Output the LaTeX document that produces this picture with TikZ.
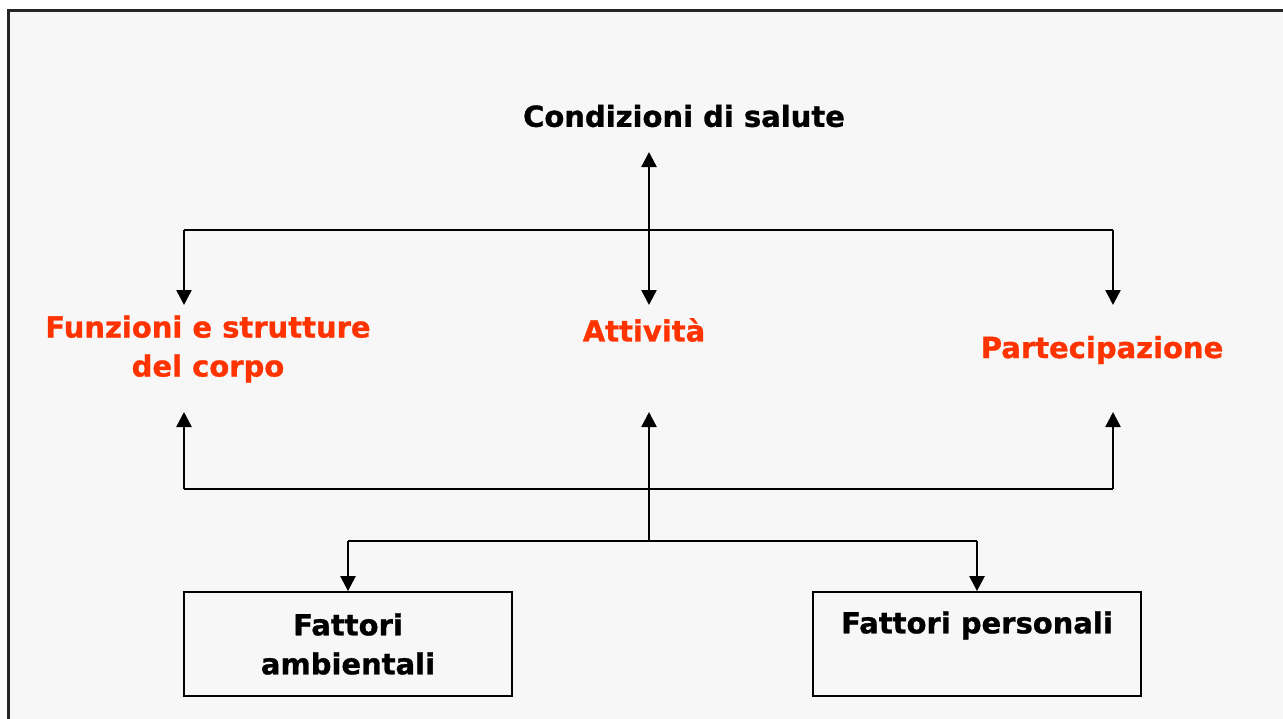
\documentclass[tikz,border=0pt]{standalone}
\usepackage{fontspec}
\setmainfont[BoldFeatures={FakeBold=1}]{DejaVu Sans}
\usetikzlibrary{arrows.meta}
\definecolor{icfred}{RGB}{255,51,0}
\definecolor{icfbg}{RGB}{247,247,247}

\tikzset{
    lbl/.style={font=\fontsize{29}{39}\selectfont\bfseries, inner sep=0pt, align=center},
    comp/.style={lbl, text=icfred},
    fattbox/.style={draw, line width=1.8pt, minimum width=328pt, minimum height=104pt},
    arr/.style={line width=2.4pt, -{Triangle[length=15pt, width=15pt]}},
    bus/.style={line width=2.4pt}
}

\begin{document}
\begin{tikzpicture}[x=1pt, y=-1pt]

        \useasboundingbox (0, 0) rectangle (1283, 718);
        \fill[white] (0, 0) rectangle (1283, 718);
        \draw[line width=3pt, fill=icfbg, draw=black!85] (8, 10) rectangle (1300, 740);

        % titolo e componenti
        \node[lbl] (salute) at (684, 116) {Condizioni di salute};
        \node[comp] (funz) at (208, 349) {Funzioni e strutture\\del corpo};
        \node[comp] (att) at (644, 330) {Attività};
        \node[comp] (part) at (1102, 350) {Partecipazione};

        % fattori contestuali
        \node[fattbox] (amb) at (348, 644) {};
        \node[lbl, anchor=north] at (amb.north) [yshift=-22pt] {Fattori\\ambientali};
        \node[fattbox] (pers) at (977, 644) {};
        \node[lbl, anchor=north] at (pers.north) [yshift=-20pt] {Fattori personali};

        % bus superiore
        \coordinate (tc) at (649, 230);
        \coordinate (tl) at (184, 230);
        \coordinate (tr) at (1113, 230);
        \coordinate (tsal) at (649, 152);
        \coordinate (tfunz) at (184, 305);
        \coordinate (tatt) at (649, 305);
        \coordinate (tpart) at (1113, 305);

        \draw[bus] (tl) -- (tr);
        \draw[arr] (tc) -- (tsal);
        \draw[arr] (tc) -- (tatt);
        \draw[arr] (tl) -- (tfunz);
        \draw[arr] (tr) -- (tpart);

        % bus inferiore
        \coordinate (bc) at (649, 489);
        \coordinate (bl) at (184, 489);
        \coordinate (br) at (1113, 489);
        \coordinate (bfunz) at (184, 412);
        \coordinate (batt) at (649, 412);
        \coordinate (bpart) at (1113, 412);

        \draw[bus] (bl) -- (br);
        \draw[arr] (bl) -- (bfunz);
        \draw[arr] (bc) -- (batt);
        \draw[arr] (br) -- (bpart);

        % fattori
        \coordinate (fc) at (649, 541);
        \coordinate (fl) at (348, 541);
        \coordinate (fr) at (977, 541);

        \draw[bus] (bc) -- (fc);
        \draw[bus] (fl) -- (fr);
        \draw[arr] (fl) -- (amb.north);
        \draw[arr] (fr) -- (pers.north);

\end{tikzpicture}
\end{document}
